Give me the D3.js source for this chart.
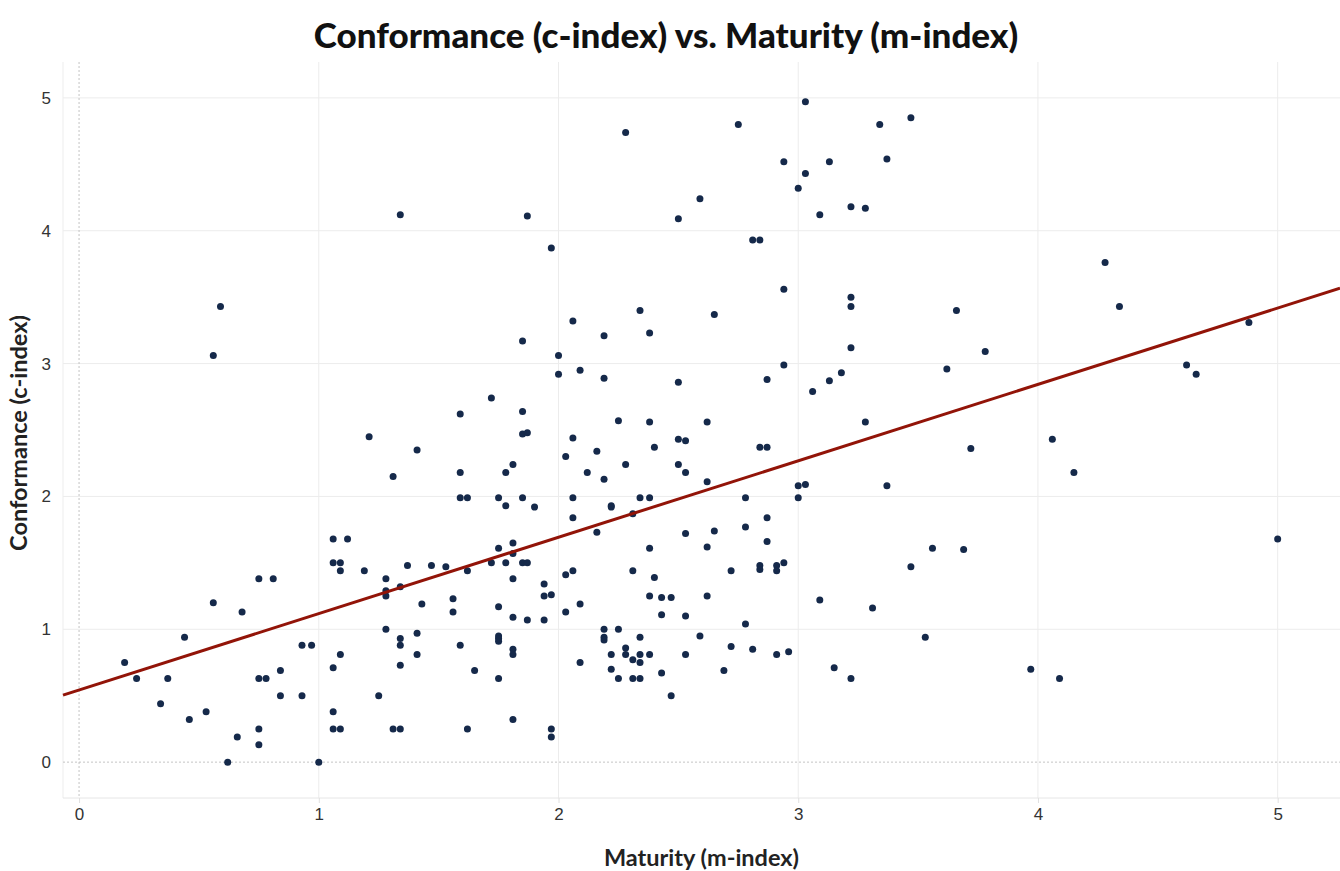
<!DOCTYPE html>
<html lang="en">
<head>
<meta charset="UTF-8">
<title>Conformance vs. Maturity</title>
<script src="https://d3js.org/d3.v7.min.js"></script>
<style>
  body { margin: 0; background: #fff; font-family: Lato, "Open Sans", sans-serif; }
  .grid line { stroke: #ececec; stroke-width: 1; }
  .tick-label { font-size: 17px; fill: #333; }
  .axis-title { font-size: 23.5px; font-weight: bold; fill: #222; }
  .title { font-size: 35px; font-weight: 900; fill: #111; }
</style>
</head>
<body>
<svg id="chart" width="1340" height="871"></svg>
<script>
// maturity (m-index) and conformance (c-index) of each point
const maturity = [
  0.59, 2.28, 1.34, 1.87, 2.50, 1.97, 2.34, 2.06, 2.38, 3.03, 2.75, 3.34, 3.47, 2.94, 3.13, 3.37,
  3.03, 3.00, 2.59, 3.09, 3.22, 3.28, 2.81, 2.84, 2.94, 3.22, 3.22, 2.65, 3.66, 4.28, 4.34, 4.88,
  0.56, 1.21, 1.06, 1.12, 1.06, 1.09, 1.09, 1.19, 2.19, 1.85, 2.00, 2.00, 2.09, 2.19, 2.50, 1.72,
  1.59, 1.85, 1.85, 1.87, 2.25, 2.38, 1.41, 2.06, 2.50, 2.53, 2.40, 2.03, 2.16, 1.81, 2.28, 2.50,
  1.31, 1.59, 1.78, 2.12, 2.53, 2.19, 1.59, 1.62, 1.75, 1.85, 2.06, 2.34, 2.38, 1.78, 1.90, 2.22,
  2.22, 2.31, 2.06, 2.16, 2.53, 2.38, 1.81, 1.75, 1.81, 1.72, 1.78, 1.85, 1.87, 1.37, 1.47, 1.53,
  3.22, 3.78, 2.94, 3.62, 2.87, 3.18, 3.13, 3.06, 2.62, 3.28, 2.84, 2.87, 3.72, 2.62, 3.00, 3.03,
  3.37, 2.78, 3.00, 2.87, 2.65, 2.78, 2.87, 2.62, 3.56, 3.69, 3.47, 2.94, 2.84, 2.84, 2.91, 2.91,
  2.72, 2.62, 2.53, 2.78, 2.59, 2.53, 2.72, 2.81, 2.91, 2.96, 2.69, 3.09, 3.31, 3.53, 3.15, 3.22,
  4.62, 4.66, 4.06, 4.15, 5.00, 3.97, 4.09, 0.75, 0.81, 0.56, 0.68, 0.44, 0.93, 0.97, 1.09, 1.06,
  0.19, 0.84, 0.24, 0.37, 0.75, 0.78, 0.84, 0.93, 1.25, 0.34, 0.53, 0.46, 1.06, 1.06, 1.09, 0.66,
  0.75, 0.75, 0.62, 1.00, 1.62, 1.28, 1.28, 1.28, 1.34, 1.43, 1.56, 1.56, 1.75, 1.81, 1.81, 1.87,
  1.94, 1.94, 1.97, 1.94, 2.03, 2.06, 2.03, 2.09, 2.31, 2.40, 2.38, 2.43, 2.47, 2.43, 1.28, 1.34,
  1.34, 1.41, 1.41, 1.34, 1.59, 1.65, 1.75, 1.75, 1.75, 1.75, 1.81, 1.81, 1.31, 1.34, 1.62, 1.81,
  1.97, 1.97, 2.09, 2.19, 2.19, 2.19, 2.25, 2.22, 2.22, 2.25, 2.28, 2.28, 2.31, 2.31, 2.34, 2.34,
  2.34, 2.38, 2.34, 2.43, 2.47
];
const conformance = [
  3.43, 4.74, 4.12, 4.11, 4.09, 3.87, 3.40, 3.32, 3.23, 4.97, 4.80, 4.80, 4.85, 4.52, 4.52, 4.54,
  4.43, 4.32, 4.24, 4.12, 4.18, 4.17, 3.93, 3.93, 3.56, 3.50, 3.43, 3.37, 3.40, 3.76, 3.43, 3.31,
  3.06, 2.45, 1.68, 1.68, 1.50, 1.50, 1.44, 1.44, 3.21, 3.17, 3.06, 2.92, 2.95, 2.89, 2.86, 2.74,
  2.62, 2.64, 2.47, 2.48, 2.57, 2.56, 2.35, 2.44, 2.43, 2.42, 2.37, 2.30, 2.34, 2.24, 2.24, 2.24,
  2.15, 2.18, 2.18, 2.18, 2.18, 2.13, 1.99, 1.99, 1.99, 1.99, 1.99, 1.99, 1.99, 1.93, 1.92, 1.93,
  1.92, 1.87, 1.84, 1.73, 1.72, 1.61, 1.65, 1.61, 1.57, 1.50, 1.50, 1.50, 1.50, 1.48, 1.48, 1.47,
  3.12, 3.09, 2.99, 2.96, 2.88, 2.93, 2.87, 2.79, 2.56, 2.56, 2.37, 2.37, 2.36, 2.11, 2.08, 2.09,
  2.08, 1.99, 1.99, 1.84, 1.74, 1.77, 1.66, 1.62, 1.61, 1.60, 1.47, 1.50, 1.48, 1.45, 1.48, 1.44,
  1.44, 1.25, 1.10, 1.04, 0.95, 0.81, 0.87, 0.85, 0.81, 0.83, 0.69, 1.22, 1.16, 0.94, 0.71, 0.63,
  2.99, 2.92, 2.43, 2.18, 1.68, 0.70, 0.63, 1.38, 1.38, 1.20, 1.13, 0.94, 0.88, 0.88, 0.81, 0.71,
  0.75, 0.69, 0.63, 0.63, 0.63, 0.63, 0.50, 0.50, 0.50, 0.44, 0.38, 0.32, 0.38, 0.25, 0.25, 0.19,
  0.25, 0.13, 0.00, 0.00, 1.44, 1.38, 1.29, 1.25, 1.32, 1.19, 1.23, 1.13, 1.17, 1.38, 1.09, 1.07,
  1.34, 1.25, 1.26, 1.07, 1.41, 1.44, 1.13, 1.19, 1.44, 1.39, 1.25, 1.24, 1.24, 1.11, 1.00, 0.93,
  0.88, 0.97, 0.81, 0.73, 0.88, 0.69, 0.95, 0.93, 0.91, 0.63, 0.85, 0.81, 0.25, 0.25, 0.25, 0.32,
  0.25, 0.19, 0.75, 1.00, 0.94, 0.92, 1.00, 0.81, 0.70, 0.63, 0.86, 0.81, 0.77, 0.63, 0.63, 0.94,
  0.81, 0.81, 0.75, 0.67, 0.50
];
const xTicks = [0, 1, 2, 3, 4, 5];
const yTicks = [0, 1, 2, 3, 4, 5];
// trend line, as drawn in the picture
const trendIntercept = 0.543;
const trendSlope = 0.575;

const width = 1340, height = 871;
const plot = { left: 63, right: 1340, top: 62, bottom: 798 };

const svg = d3.select("#chart");

const x = d3.scaleLinear().domain([-0.067, 5.26]).range([plot.left, plot.right]);
const y = d3.scaleLinear().domain([-0.27, 5.27]).range([plot.bottom, plot.top]);

// grid
const grid = svg.append("g").attr("class", "grid");
grid.selectAll(".gx").data(xTicks.filter(d => d !== 0)).join("line")
    .attr("x1", d => x(d)).attr("x2", d => x(d))
    .attr("y1", plot.top).attr("y2", plot.bottom);
grid.selectAll(".gy").data(yTicks.filter(d => d !== 0)).join("line")
    .attr("x1", plot.left).attr("x2", plot.right)
    .attr("y1", d => y(d)).attr("y2", d => y(d));

// frame (left + bottom)
svg.append("line").attr("x1", plot.left).attr("x2", plot.left)
    .attr("y1", plot.top).attr("y2", plot.bottom).attr("stroke", "#ededed");
svg.append("line").attr("x1", plot.left).attr("x2", plot.right)
    .attr("y1", plot.bottom).attr("y2", plot.bottom).attr("stroke", "#e6e6e6");

// zero lines (dotted)
svg.append("line").attr("x1", x(0)).attr("x2", x(0))
    .attr("y1", plot.top).attr("y2", plot.bottom)
    .attr("stroke", "#c4c4c4").attr("stroke-dasharray", "2,2");
svg.append("line").attr("x1", plot.left).attr("x2", plot.right)
    .attr("y1", y(0)).attr("y2", y(0))
    .attr("stroke", "#c4c4c4").attr("stroke-dasharray", "2,2");

// axes
const xAxis = svg.append("g").attr("transform", `translate(0,${plot.bottom})`)
    .call(d3.axisBottom(x).tickValues(xTicks).tickSize(5).tickFormat(d3.format("d")));
xAxis.select(".domain").remove();
xAxis.selectAll("line").attr("stroke", "#e0e0e0");
xAxis.selectAll("text").attr("class", "tick-label").attr("dy", "0.85em");

const yAxis = svg.append("g").attr("transform", `translate(${plot.left},0)`)
    .call(d3.axisLeft(y).tickValues(yTicks).tickSize(0).tickPadding(12).tickFormat(d3.format("d")));
yAxis.select(".domain").remove();
yAxis.selectAll("text").attr("class", "tick-label");

// points
const points = maturity.map((m, i) => ({ m, c: conformance[i] }));
svg.append("g").selectAll("circle").data(points).join("circle")
    .attr("cx", d => x(d.m))
    .attr("cy", d => y(d.c))
    .attr("r", 3.5)
    .attr("fill", "#15294a");

// trend line
const xd = x.domain();
svg.append("line")
    .attr("x1", x(xd[0])).attr("y1", y(trendIntercept + trendSlope * xd[0]))
    .attr("x2", x(xd[1])).attr("y2", y(trendIntercept + trendSlope * xd[1]))
    .attr("stroke", "#921408").attr("stroke-width", 3);

// titles
svg.append("text").attr("class", "title")
    .attr("x", 666).attr("y", 48).attr("text-anchor", "middle")
    .text("Conformance (c-index) vs. Maturity (m-index)");

svg.append("text").attr("class", "axis-title")
    .attr("x", (plot.left + plot.right) / 2).attr("y", 866).attr("text-anchor", "middle")
    .text("Maturity (m-index)");

svg.append("text").attr("class", "axis-title")
    .attr("transform", `translate(27,${(plot.top + plot.bottom) / 2 + 3}) rotate(-90)`)
    .attr("text-anchor", "middle")
    .text("Conformance (c-index)");
</script>
</body>
</html>
